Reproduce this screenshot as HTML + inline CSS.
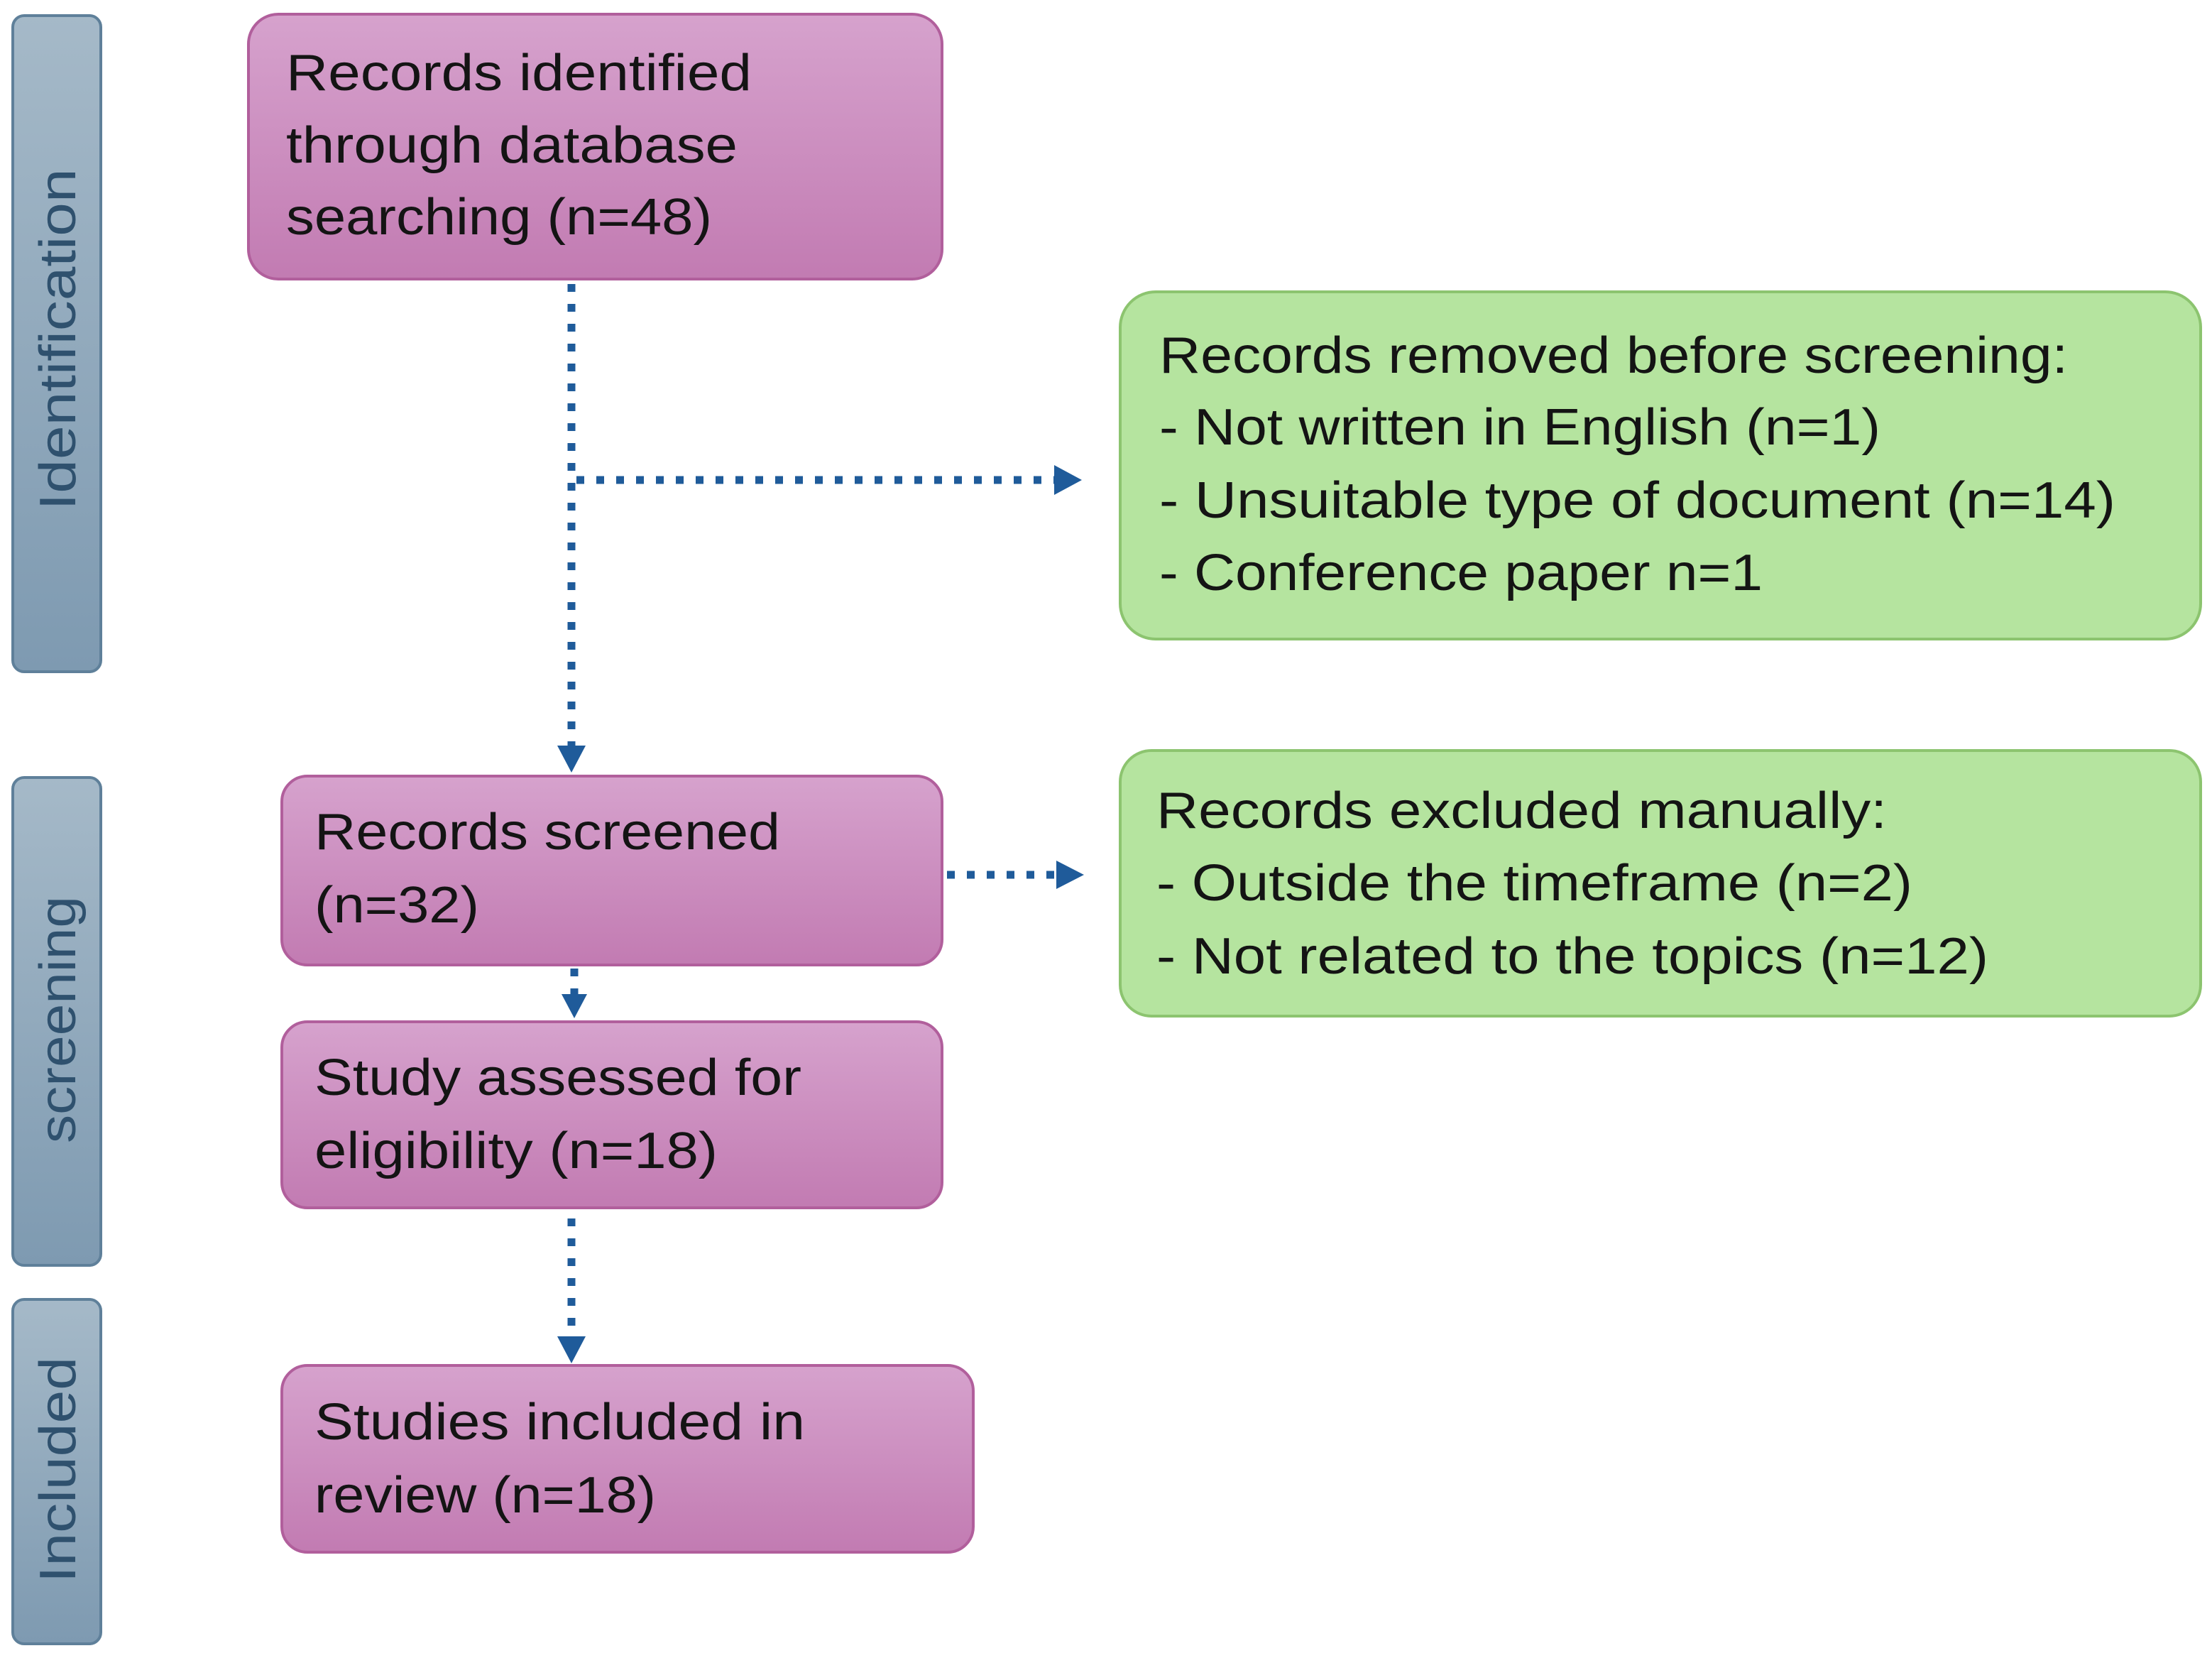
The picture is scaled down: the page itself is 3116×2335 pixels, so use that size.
<!DOCTYPE html>
<html><head><meta charset="utf-8"><style>
html,body{margin:0;padding:0;background:#fff;}
svg{display:block;}
text{font-family:"Liberation Sans",sans-serif;}
</style></head><body>
<svg width="3116" height="2335" viewBox="0 0 3116 2335" xmlns="http://www.w3.org/2000/svg">
<defs>
<linearGradient id="pk" x1="0" y1="0" x2="0" y2="1"><stop offset="0" stop-color="#d6a2cd"/><stop offset="1" stop-color="#c27bb2"/></linearGradient>
<linearGradient id="bl" x1="0" y1="0" x2="0" y2="1"><stop offset="0" stop-color="#a5b9c8"/><stop offset="1" stop-color="#7e9ab1"/></linearGradient>
</defs>
<!-- sidebars -->
<rect x="18" y="22" width="124" height="924" rx="16" fill="url(#bl)" stroke="#5f809a" stroke-width="4"/>
<rect x="18" y="1095" width="124" height="687" rx="16" fill="url(#bl)" stroke="#5f809a" stroke-width="4"/>
<rect x="18" y="1830" width="124" height="485" rx="16" fill="url(#bl)" stroke="#5f809a" stroke-width="4"/>
<g fill="#2f516e" font-size="72">
<text transform="translate(106,478) rotate(-90)" text-anchor="middle" textLength="481" lengthAdjust="spacingAndGlyphs">Identification</text>
<text transform="translate(106,1436) rotate(-90)" text-anchor="middle" textLength="348" lengthAdjust="spacingAndGlyphs">screening</text>
<text transform="translate(106,2070) rotate(-90)" text-anchor="middle" textLength="318" lengthAdjust="spacingAndGlyphs">Included</text>
</g>
<!-- pink boxes -->
<g fill="url(#pk)" stroke="#b15f9c" stroke-width="4">
<rect x="350" y="20" width="977" height="373" rx="42"/>
<rect x="397" y="1093" width="930" height="266" rx="36"/>
<rect x="397" y="1439" width="930" height="262" rx="36"/>
<rect x="397" y="1923" width="974" height="263" rx="36"/>
</g>
<!-- green boxes -->
<g fill="#b5e49f" stroke="#8cc46f" stroke-width="4">
<rect x="1578" y="411" width="1522" height="489" rx="50"/>
<rect x="1578" y="1057" width="1522" height="374" rx="44"/>
</g>
<g fill="#141414" font-size="72" lengthAdjust="spacingAndGlyphs">
<text x="403" y="127" textLength="656" lengthAdjust="spacingAndGlyphs">Records identified</text>
<text x="403" y="229" textLength="636" lengthAdjust="spacingAndGlyphs">through database</text>
<text x="403" y="330" textLength="600" lengthAdjust="spacingAndGlyphs">searching (n=48)</text>
<text x="1633" y="525" textLength="1280" lengthAdjust="spacingAndGlyphs">Records removed before screening:</text>
<text x="1633" y="626" textLength="1016" lengthAdjust="spacingAndGlyphs">- Not written in English (n=1)</text>
<text x="1633" y="729" textLength="1347" lengthAdjust="spacingAndGlyphs">- Unsuitable type of document (n=14)</text>
<text x="1633" y="831" textLength="850" lengthAdjust="spacingAndGlyphs">- Conference paper n=1</text>
<text x="1629" y="1166" textLength="1029" lengthAdjust="spacingAndGlyphs">Records excluded manually:</text>
<text x="1629" y="1268" textLength="1065" lengthAdjust="spacingAndGlyphs">- Outside the timeframe (n=2)</text>
<text x="1629" y="1371" textLength="1172" lengthAdjust="spacingAndGlyphs">- Not related to the topics (n=12)</text>
<text x="443" y="1196" textLength="656" lengthAdjust="spacingAndGlyphs">Records screened</text>
<text x="443" y="1299" textLength="232" lengthAdjust="spacingAndGlyphs">(n=32)</text>
<text x="443" y="1542" textLength="686" lengthAdjust="spacingAndGlyphs">Study assessed for</text>
<text x="443" y="1645" textLength="568" lengthAdjust="spacingAndGlyphs">eligibility (n=18)</text>
<text x="443" y="2027" textLength="691" lengthAdjust="spacingAndGlyphs">Studies included in</text>
<text x="443" y="2130" textLength="481" lengthAdjust="spacingAndGlyphs">review (n=18)</text>
</g>
<!-- connectors -->
<g stroke="#1f5b9a" stroke-width="11" stroke-dasharray="11 17" fill="none">
<line x1="805" y1="400" x2="805" y2="1050"/>
<line x1="812" y1="676" x2="1485" y2="676"/>
<line x1="1334" y1="1232" x2="1490" y2="1232"/>
<line x1="809" y1="1364" x2="809" y2="1400"/>
<line x1="805" y1="1716" x2="805" y2="1885"/>
</g>
<g fill="#1f5b9a">
<polygon points="785,1050 825,1050 805,1088"/>
<polygon points="1485,655 1485,697 1524,676"/>
<polygon points="1488,1212 1488,1252 1527,1232"/>
<polygon points="791,1400 827,1400 809,1434"/>
<polygon points="785,1882 825,1882 805,1920"/>
</g>
</svg>
</body></html>
